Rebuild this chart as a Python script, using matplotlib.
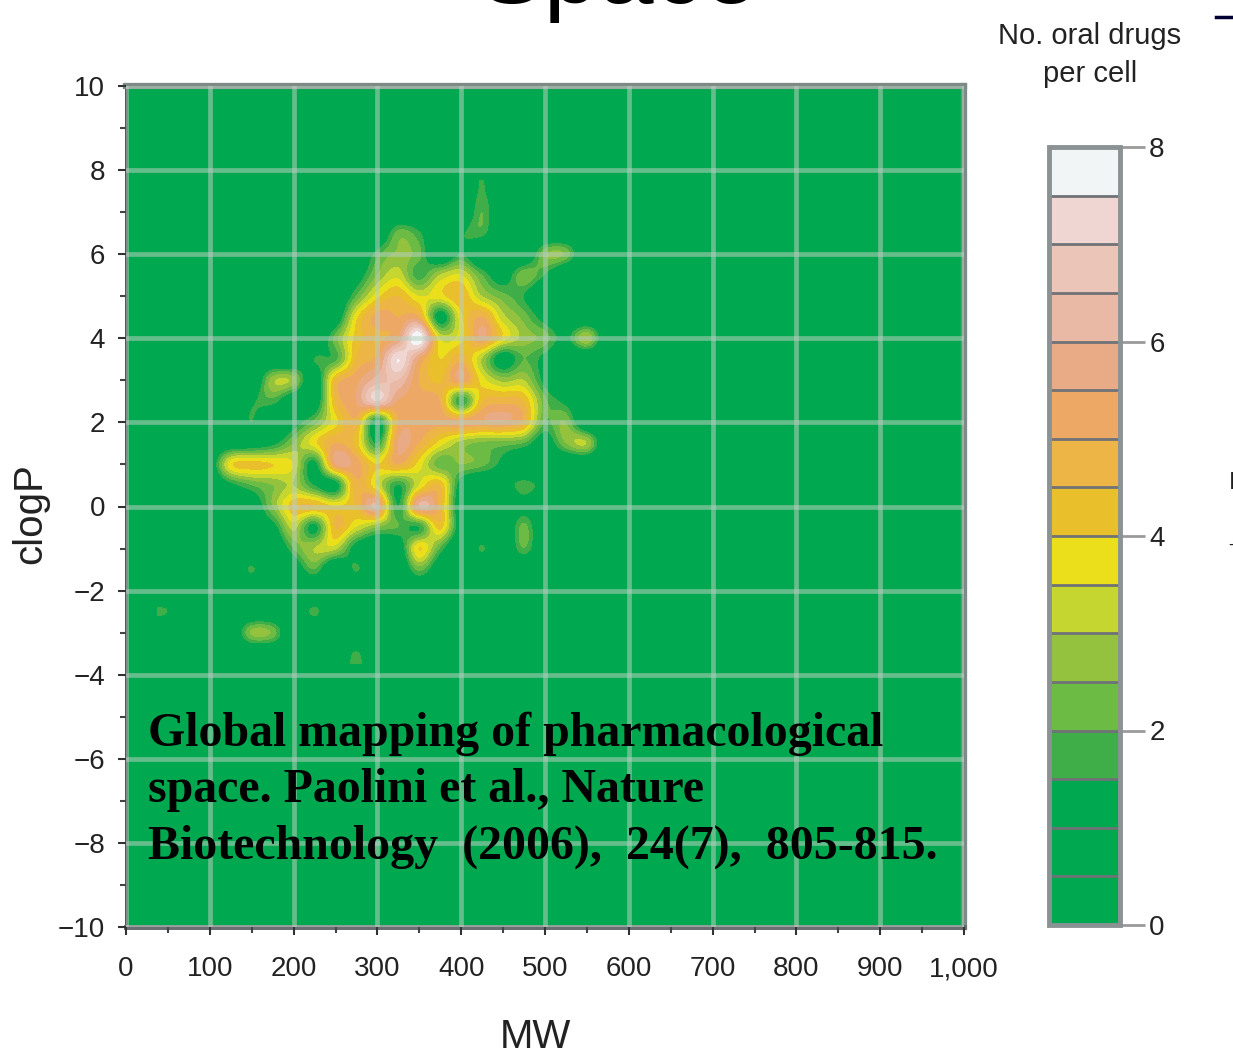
import matplotlib
matplotlib.use("Agg")
import matplotlib.pyplot as plt
from matplotlib.colors import ListedColormap, BoundaryNorm
from matplotlib.lines import Line2D
import numpy as np

plt.rcParams['font.family'] = ['Liberation Sans', 'DejaVu Sans']

# grid of the drug density
mw = [50, 75, 100, 125, 150, 175, 200, 225, 250, 275, 300, 325, 350, 375, 400, 425, 450, 475, 500, 525, 550, 575]
clogp = [7.5, 7, 6.5, 6, 5.5, 5, 4.5, 4, 3.5, 3, 2.5, 2, 1.5, 1, 0.5, 0, -0.5, -1, -1.5, -2, -2.5, -3, -3.5]
drugs_per_cell = [
    [0, 0, 0, 0, 0, 0, 0, 0, 0, 0, 0, 0, 0, 0, 0, 1.6, 0, 0, 0, 0, 0, 0],
    [0, 0, 0, 0, 0, 0, 0, 0, 0, 0, 0, 0, 0, 0, 0, 2.0, 0, 0, 0, 0, 0, 0],
    [0, 0, 0, 0, 0, 0, 0, 0, 0, 0, 0, 2.2, 1.6, 0, 1.3, 1.8, 0, 0, 0, 0, 0, 0],
    [0, 0, 0, 0, 0, 0, 0, 0, 0, 0, 1.8, 2.6, 2.2, 0, 1.5, 0, 0, 0, 2.4, 2.4, 0, 0],
    [0, 0, 0, 0, 0, 0, 0, 0, 0, 0.8, 2.5, 3.3, 1.7, 3.0, 3.5, 2.0, 0.8, 2.4, 1.5, 0, 0, 0],
    [0, 0, 0, 0, 0, 0, 0, 0, 0, 2.0, 3.8, 4.5, 3.5, 3.8, 4.5, 3.0, 2.2, 1.5, 0, 0, 0, 0],
    [0, 0, 0, 0, 0, 0, 0, 0, 0.5, 3.8, 5.2, 5.0, 5.0, 1.0, 3.8, 5.0, 3.2, 2.3, 1.0, 0, 0, 0],
    [0, 0, 0, 0, 0, 0, 0, 0, 2.2, 4.2, 4.8, 5.5, 8.0, 3.5, 3.8, 5.5, 3.9, 2.8, 2.3, 1.2, 3.0, 0.3],
    [0, 0, 0, 0, 0, 0, 0, 1.5, 1.8, 4.5, 5.2, 7.5, 5.5, 4.0, 4.8, 3.0, 0.8, 2.0, 1.2, 0, 0, 0],
    [0, 0, 0, 0, 0, 2.8, 2.8, 0.5, 4.5, 5.3, 6.2, 6.5, 5.0, 4.4, 5.5, 3.8, 2.8, 3.0, 1.2, 0, 0, 0],
    [0, 0, 0, 0, 1.3, 1.8, 0.5, 0.5, 4.5, 5.5, 7.0, 5.5, 5.3, 5.0, 1.5, 4.4, 4.8, 4.5, 2.2, 1.2, 0, 0],
    [0, 0, 0, 0, 1.5, 0, 1.0, 2.2, 3.8, 4.8, 1.0, 5.0, 5.3, 5.2, 5.3, 5.4, 5.5, 4.8, 2.0, 2.5, 0, 0],
    [0, 0, 0, 0.5, 0.8, 1.2, 2.5, 3.8, 5.0, 4.3, 1.5, 5.5, 5.0, 3.8, 2.8, 2.4, 2.3, 2.0, 0.8, 2.5, 3.0, 0],
    [0, 0, 0.5, 3.8, 4.2, 4.0, 3.5, 1.2, 5.5, 5.3, 4.0, 5.0, 3.8, 2.2, 2.5, 2.2, 1.2, 0, 0, 0, 0, 0],
    [0, 0, 0, 1.2, 2.0, 2.5, 3.0, 1.5, 1.0, 4.8, 3.5, 1.5, 3.5, 4.5, 1.0, 0, 0.8, 1.8, 1.0, 0, 0, 0],
    [0, 0, 0, 0, 0.5, 2.5, 4.3, 4.5, 4.0, 4.5, 6.0, 1.5, 6.0, 4.8, 0.5, 0, 0, 1.0, 0, 0, 0, 0],
    [0, 0, 0, 1.2, 0.8, 1.0, 3.2, 1.2, 4.5, 3.5, 2.5, 2.0, 1.5, 4.2, 0.8, 0, 0, 2.2, 0, 0, 0, 0],
    [0, 0, 0, 0, 0, 0, 2.0, 3.0, 3.2, 1.0, 0, 0.5, 4.0, 2.0, 0, 1.6, 0, 2.0, 0, 0, 0, 0],
    [0, 0, 0, 0, 1.6, 0, 0.5, 2.0, 0, 1.6, 0, 0, 2.2, 0.5, 0, 0, 0, 0, 0, 0, 0, 0],
    [0, 0, 0, 0, 0, 0, 0, 0, 0, 0, 0, 0, 0, 0, 0, 0, 0, 0, 0, 0, 0, 0],
    [1.5, 0, 0, 0, 0, 0, 0, 1.7, 0, 0, 0, 0, 0, 0, 0, 0, 0, 0, 0, 0, 0, 0],
    [0, 0, 0, 0, 2.6, 2.4, 0, 0, 0, 0, 0, 0, 0, 0, 0, 0, 0, 0, 0, 0, 0, 0],
    [0, 0, 0, 0, 0, 0, 0, 0, 0, 1.6, 0, 0, 0, 0, 0, 0, 0, 0, 0, 0, 0, 0],
]

levels = np.arange(0, 8.5, 0.5)
band_colors = ['#00a94f', '#00a94f', '#00a94f', '#3fae49', '#6cbb45', '#94c23f', '#c5d631', '#ebdf1c',
               '#e9bf2c', '#edb446', '#eda866', '#e9ab85', '#e9b9a5', '#ebc6b8', '#f0d6d2', '#f2f5f5']
x_ticks = [0, 100, 200, 300, 400, 500, 600, 700, 800, 900, 1000]
x_labels = ['0', '100', '200', '300', '400', '500', '600', '700', '800', '900', '1,000']
y_ticks = [-10, -8, -6, -4, -2, 0, 2, 4, 6, 8, 10]
note = ("Global mapping of pharmacological\n"
        "space. Paolini et al., Nature\n"
        "Biotechnology  (2006),  24(7),  805-815.")

W, H = 1233, 1056
fig = plt.figure(figsize=(W/100, H/100), dpi=100)
ax = fig.add_axes([126/W, 1-927/H, (964-126)/W, (927-86)/H])
ax.set_facecolor(band_colors[0])

cmap = ListedColormap(band_colors)
norm = BoundaryNorm(levels, cmap.N)
# half a grid step round the nodes so the cells sit on their mw/clogp values
extent = [mw[0]-12.5, mw[-1]+12.5, clogp[-1]-0.25, clogp[0]+0.25]
im = ax.imshow(drugs_per_cell, extent=extent, origin='upper', aspect='auto', cmap=cmap, norm=norm,
               interpolation='catrom', interpolation_stage='data', zorder=1)

ax.set_xlim(0, 1000)
ax.set_ylim(-10, 10)
ax.set_xticks(x_ticks)
ax.set_xticklabels(x_labels)
ax.set_yticks(y_ticks)
ax.set_xticks(np.arange(0, 1001, 50), minor=True)
ax.set_yticks(np.arange(-10, 11, 1), minor=True)
ax.tick_params(axis='x', which='major', pad=15)
ax.tick_params(axis='y', which='major', pad=9)
ax.tick_params(axis='both', which='major', labelsize=20, length=6, width=1.5, color='#333333', labelcolor='#222222')
ax.tick_params(axis='both', which='minor', length=4, width=1.5, color='#444444')
ax.grid(True, which='major', color='#b9cfc0', alpha=0.55, linewidth=3.4, zorder=2)
ax.set_axisbelow(False)

for side, c, lw in [('top', '#7d8a85', 4.5), ('right', '#7d8a85', 4.5), ('bottom', '#6b6f73', 3.6), ('left', '#3c4248', 2.0)]:
    ax.spines[side].set_color(c)
    ax.spines[side].set_linewidth(lw)

fig.text(535/W, 1-1037/H, 'MW', fontsize=29, ha='center', va='center', color='#222222')
fig.text(30/W, 1-514/H, 'clogP', fontsize=29, rotation=90, ha='center', va='center', color='#222222')

ax.text(26, -6.74, note, family=['Liberation Serif'], fontweight='bold', fontsize=34.5, color='black',
        linespacing=1.36, va='center', ha='left', zorder=5)

# colour bar
cax = fig.add_axes([1049/W, 1-925/H, (1120-1049)/W, (925-147)/H])
cb = fig.colorbar(im, cax=cax, ticks=[0, 2, 4, 6, 8], drawedges=True)
cb.dividers.set_color('#6f7276')
cb.dividers.set_linewidth(2.0)
cb.outline.set_edgecolor('#8b9294')
cb.outline.set_linewidth(3.5)
cb.ax.tick_params(labelsize=20, length=18, width=2, color='#9a9a9a', pad=3, labelcolor='#222222')
cb.ax.minorticks_off()

fig.text(1090/W, 1-55/H, 'No. oral drugs\nper cell', fontsize=21, ha='center', va='center',
         linespacing=1.5, color='#222222')

# rests of the slide that the crop cut off
fig.text(618/W, 1-3/H, 'Space', fontsize=71, ha='center', va='baseline', color='black')
fig.add_artist(Line2D([1216/W, 1233/W], [1-17/H, 1-17/H], color='#000033', linewidth=2.5))
fig.text(1229/W, 1-483/H, 'I', fontsize=17, ha='left', va='center', color='#222222')
fig.text(1228/W, 1-545/H, '-', fontsize=13, ha='left', va='center', color='#222222')

fig.savefig('out.png', dpi=100)
